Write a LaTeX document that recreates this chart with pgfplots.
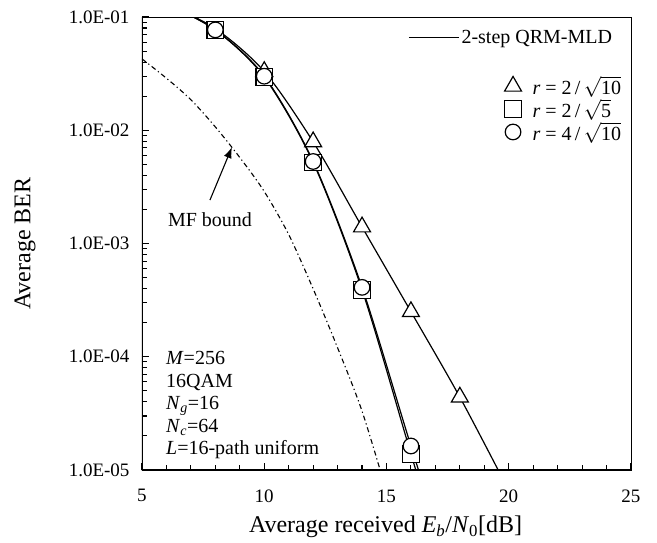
\documentclass[border=0pt]{standalone}
\usepackage{fontspec}
\setmainfont{Liberation Serif}
\usepackage{pgfplots}
\pgfplotsset{compat=1.18}
\usetikzlibrary{arrows.meta}

\pgfplotsset{
    marklegend/.style={legend image code/.code={
        \path[draw=none,fill=none] (0pt,0pt) -- (17pt,0pt);
        \draw[mark repeat=2,mark phase=2,only marks,##1] plot coordinates {(0pt,0pt)(8.5pt,0pt)(17pt,0pt)};}},
    linelegend/.style={legend image code/.code={
        \draw[##1, black, line width=1.3pt] (0pt,0pt) -- (50pt,0pt);}},
}

\begin{document}
\begin{tikzpicture}
\useasboundingbox (-142pt,-72pt) rectangle (515pt,470pt);
\begin{axis}[
    at={(0,0)}, anchor=south west,
    width=489pt, height=453pt, scale only axis,
    xmin=5, xmax=25,
    ymode=log, ymin=1e-5, ymax=1e-1,
    xtick={5,10,15,20,25},
    xticklabels={5,10,15,20,25},
    minor x tick num=4,
    ytick={1e-5,1e-4,1e-3,1e-2,1e-1},
    yticklabels={1.0E-05,1.0E-04,1.0E-03,1.0E-02,1.0E-01},
    tick pos=left,
    tick align=inside,
    major tick length=7pt,
    minor tick length=5pt,
    every tick/.style={black, line width=1.1pt},
    axis line style={line width=0.9pt},
    ticklabel style={font=\fontsize{19}{22}\selectfont},
    xticklabel style={yshift=-16pt},
    yticklabel style={xshift=-9pt},
    xlabel={Average received \textit{E}\textsubscript{\textit{b}}/\textit{N}\textsubscript{0}[dB]},
    ylabel={Average BER},
    label style={font=\fontsize{24}{28}\selectfont},
    xlabel style={at={(axis description cs:0.498,-0.126)}, anchor=center},
    ylabel style={at={(axis description cs:-0.239,0.5)}, anchor=center},
    legend style={at={(rel axis cs:0.741,0.874)}, anchor=north west,
        draw=none, fill=none, inner sep=0pt, row sep=-1pt,
        font=\fontsize{20}{24}\selectfont, nodes={inner sep=2pt}},
    legend cell align=left,
]

% curves (2-step QRM-MLD)
\addplot[black, line width=1.2pt, smooth, forget plot] coordinates {
    (6,0.13)(8,7.9e-2)(10,3.3e-2)(12,7.9e-3)(14,1.4e-3)(16,2.5e-4)(18,4.4e-5)(20,6.6e-6)};
\addplot[black, line width=1.2pt, smooth, forget plot] coordinates {
    (6,0.13)(8,7.7e-2)(10,2.95e-2)(12,5.2e-3)(14,3.9e-4)(16,1.39e-5)(18,5e-7)};
\addplot[black, line width=1.2pt, smooth, forget plot] coordinates {
    (6,0.13)(8,7.7e-2)(10,3.0e-2)(12,5.3e-3)(14,4.1e-4)(16,1.63e-5)(18,7e-7)};

% MF bound
\addplot[black, line width=1.1pt, smooth, forget plot,
    dash pattern=on 5pt off 3pt on 1.2pt off 3pt] coordinates {
    (5,4.27e-2)(6,2.88e-2)(7,1.86e-2)(8,1.07e-2)(9,5.75e-3)(10,2.88e-3)
    (11,1.20e-3)(12,3.98e-4)(13,1.20e-4)(14,3.31e-5)(15,6.46e-6)};

% markers
\addplot[only marks, mark=triangle*, mark size=9.8pt, line width=1.2pt,
    mark options={fill=white, draw=black}, marklegend] coordinates {
    (10,3.3e-2)(12,7.9e-3)(14,1.4e-3)(16,2.5e-4)(18,4.4e-5)};
\addlegendentry{\hspace*{9pt}\textit{r} = 2\,/\,$\sqrt{\mbox{10}}$}
\addplot[only marks, mark=square*, mark size=8.3pt, line width=1.2pt,
    mark options={fill=white, draw=black}, marklegend] coordinates {
    (8,7.7e-2)(10,2.95e-2)(12,5.2e-3)(14,3.9e-4)(16,1.39e-5)};
\addlegendentry{\hspace*{9pt}\textit{r} = 2\,/\,$\sqrt{\mbox{5}}$}
\addplot[only marks, mark=*, mark size=7.8pt, line width=1.2pt,
    mark options={fill=white, draw=black}, marklegend] coordinates {
    (8,7.7e-2)(10,3.0e-2)(12,5.3e-3)(14,4.1e-4)(16,1.63e-5)};
\addlegendentry{\hspace*{9pt}\textit{r} = 4\,/\,$\sqrt{\mbox{10}}$}

% annotations
\draw[line width=1.1pt, -{Latex[length=11pt,width=8pt]}]
    (axis cs:7.78,2.42e-3) -- (axis cs:8.68,7.1e-3);
\node[font=\fontsize{20}{24}\selectfont] at (axis cs:7.78,1.62e-3) {MF bound};
\node[anchor=north west, align=left, inner sep=0pt, font=\fontsize{20}{22.5}\selectfont]
    at (rel axis cs:0.049,0.262)
    {\textit{M}=256\\16QAM\\\textit{N}\textsubscript{\textit{g}}=16\\\textit{N}\textsubscript{\textit{c}}=64\\\textit{L}=16-path uniform};

% thicker left and bottom axis lines
\draw[line width=2.4pt] (rel axis cs:0,1) -- (rel axis cs:0,0) -- (rel axis cs:1,0);
\end{axis}

% second, hidden axis: only the legend entry of the solid curves
\begin{axis}[
    at={(0,0)}, anchor=south west,
    width=489pt, height=453pt, scale only axis,
    xmin=5, xmax=25, ymin=0, ymax=1,
    hide axis,
    legend style={at={(rel axis cs:0.544,0.976)}, anchor=north west,
        draw=none, fill=none, inner sep=0pt,
        font=\fontsize{20}{24}\selectfont, nodes={inner sep=2pt}},
    legend cell align=left,
]
\addlegendimage{linelegend}
\addlegendentry{2-step QRM-MLD}
\end{axis}
\end{tikzpicture}
\end{document}
